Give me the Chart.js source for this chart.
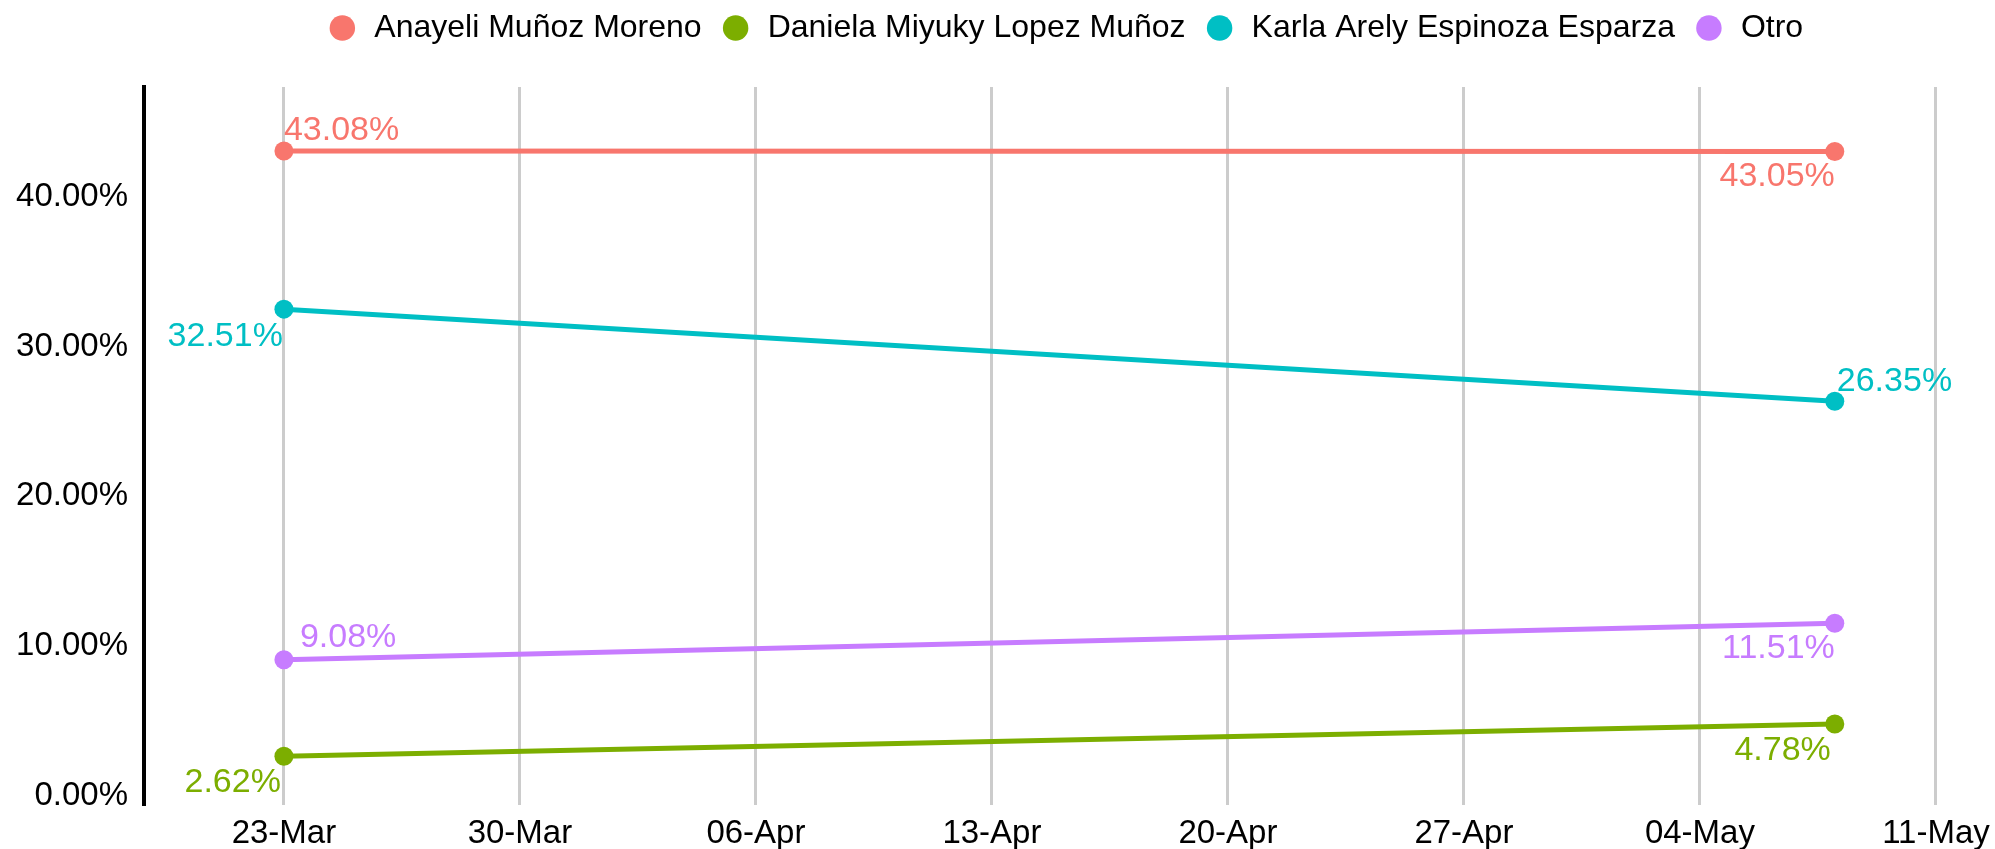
<!DOCTYPE html>
<html>
<head>
<meta charset="utf-8">
<title>Tendencia</title>
<script src="https://cdn.jsdelivr.net/npm/chart.js@4/dist/chart.umd.min.js"></script>
<style>
    html, body { margin: 0; padding: 0; background: #ffffff; }
    #wrap { width: 1995px; height: 849px; position: relative; }
</style>
</head>
<body>
<div id="wrap"><canvas id="canvas"></canvas></div>
<script>
// fechas de medicion y valores (%)
const fechas = ['2024-03-23', '2024-05-08'];
const nombres = ['Anayeli Muñoz Moreno', 'Daniela Miyuky Lopez Muñoz', 'Karla Arely Espinoza Esparza', 'Otro'];
const anayeli = [43.08, 43.05];
const daniela = [2.62, 4.78];
const karla = [32.51, 26.35];
const otro = [9.08, 11.51];
const colores = ['#F8766D', '#7CAE00', '#00BFC4', '#C77CFF'];

// ticks
const xTicks = ['2024-03-23', '2024-03-30', '2024-04-06', '2024-04-13', '2024-04-20', '2024-04-27', '2024-05-04', '2024-05-11'];
const yTicks = [0, 10, 20, 30, 40];
const meses = ['Jan', 'Feb', 'Mar', 'Apr', 'May', 'Jun', 'Jul', 'Aug', 'Sep', 'Oct', 'Nov', 'Dec'];

function toDay(s) {
    return Date.parse(s + 'T00:00:00Z') / 86400000;
}
function fmtDay(d) {
    let dt = new Date(d * 86400000);
    let dd = String(dt.getUTCDate()).padStart(2, '0');
    return dd + '-' + meses[dt.getUTCMonth()];
}

Chart.defaults.font.family = "'Liberation Sans', Arial, sans-serif";
Chart.defaults.color = '#000000';

const series = [anayeli, daniela, karla, otro];
const datasets = series.map(function (vals, i) {
    return {
        label: nombres[i],
        data: vals.map(function (v, j) { return {x: toDay(fechas[j]), y: v}; }),
        borderColor: colores[i],
        backgroundColor: colores[i],
        borderWidth: 5,
        pointRadius: 9.5,
        pointHoverRadius: 9.5,
        pointBorderWidth: 0,
        tension: 0
    };
});

// donde va cada etiqueta: [alineacion, dx, dy]
const posEtiquetas = [
    [['left', 0, -11], ['right', 0, 35]],
    [['right', -3, 36], ['right', -4, 36]],
    [['right', -1, 37], ['left', 2, -10]],
    [['left', 16, -13], ['right', 0, 35]]
];

const etiquetasPlugin = {
    id: 'etiquetas',
    afterDatasetsDraw: function (chart) {
        let ctx = chart.ctx;
        ctx.save();
        ctx.font = "34px 'Liberation Sans', Arial, sans-serif";
        ctx.textBaseline = 'alphabetic';
        chart.data.datasets.forEach(function (ds, i) {
            let meta = chart.getDatasetMeta(i);
            meta.data.forEach(function (pt, j) {
                let p = posEtiquetas[i][j];
                ctx.fillStyle = ds.borderColor;
                ctx.textAlign = p[0];
                ctx.fillText(ds.data[j].y.toFixed(2) + '%', pt.x + p[1], pt.y + p[2]);
            });
        });
        ctx.restore();
    }
};

// espacio extra bajo la leyenda
const espacioLeyenda = {
    id: 'espacioLeyenda',
    beforeInit: function (chart) {
        let fit = chart.legend.fit;
        chart.legend.fit = function () {
            fit.call(this);
            this.height += 33;
        };
    }
};

const xMin = toDay(xTicks[0]) - 4.15;
const xMax = toDay(xTicks[0]) + 50.47;

new Chart(document.getElementById('canvas').getContext('2d'), {
    type: 'line',
    data: { datasets: datasets },
    options: {
        responsive: true,
        maintainAspectRatio: false,
        animation: false,
        layout: { padding: { top: -6, left: 0, right: 0, bottom: 0 } },
        plugins: {
            tooltip: { enabled: false },
            legend: {
                position: 'top',
                fullSize: false,
                labels: {
                    usePointStyle: true,
                    pointStyle: 'circle',
                    boxWidth: 32,
                    boxHeight: 18,
                    padding: 18,
                    color: '#000000',
                    font: { size: 32 }
                }
            }
        },
        scales: {
            x: {
                type: 'linear',
                min: xMin,
                max: xMax,
                afterBuildTicks: function (scale) {
                    scale.ticks = xTicks.map(function (t) { return {value: toDay(t)}; });
                },
                afterFit: function (scale) {
                    scale.paddingLeft = 0;
                    scale.paddingRight = 0;
                    scale.height = 44;
                },
                ticks: {
                    padding: 9,
                    maxRotation: 0,
                    autoSkip: false,
                    color: '#000000',
                    font: { size: 33 },
                    callback: function (v) { return fmtDay(v); }
                },
                grid: { color: '#cccccc', lineWidth: 3, drawTicks: false },
                border: { display: false }
            },
            y: {
                min: -0.635,
                max: 47.36,
                afterBuildTicks: function (scale) {
                    scale.ticks = yTicks.map(function (t) { return {value: t}; });
                },
                afterFit: function (scale) {
                    scale.paddingTop = 0;
                    scale.paddingBottom = 0;
                    scale.width = 144;
                },
                ticks: {
                    padding: 16,
                    color: '#000000',
                    font: { size: 33 },
                    callback: function (v) { return v.toFixed(2) + '%'; }
                },
                grid: { display: false, drawTicks: false },
                border: { display: true, color: '#000000', width: 4 }
            }
        }
    },
    plugins: [etiquetasPlugin, espacioLeyenda]
});
</script>
</body>
</html>
